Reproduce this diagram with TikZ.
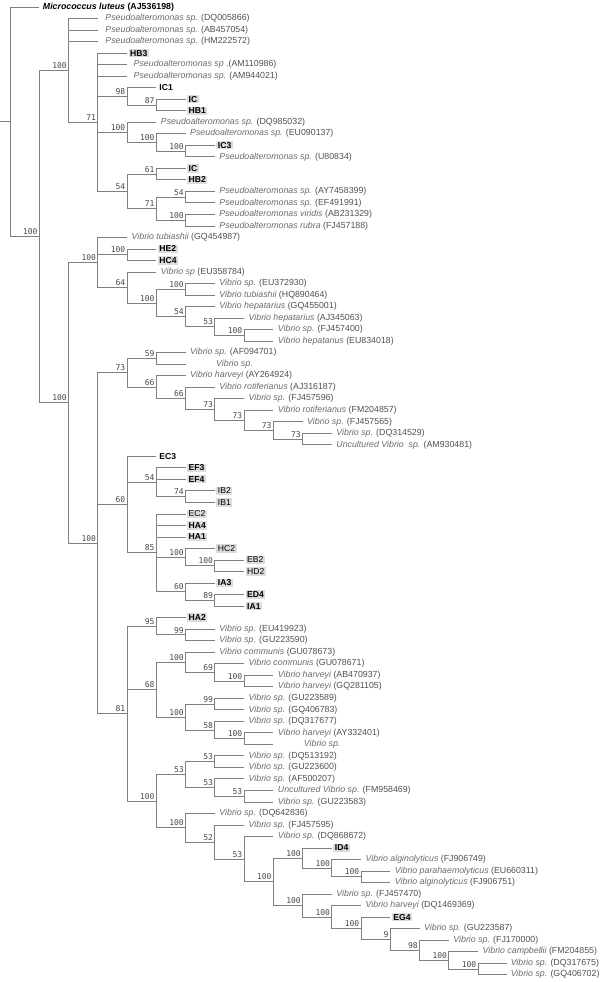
\documentclass[tikz,border=0pt]{standalone}
\usepackage{fontspec}
\setmainfont{Liberation Sans}
\newfontfamily\bsfont{DejaVu Sans Mono}
\definecolor{brc}{HTML}{808080}
\definecolor{bsc}{HTML}{484848}
\definecolor{spc}{HTML}{6A6A6A}
\definecolor{acc}{HTML}{505050}
\definecolor{isobg}{HTML}{DCDCDC}
\newcommand\spl[2]{{\color{spc}\itshape #1} {\color{acc}#2}}
\tikzset{
  br/.style={draw=brc,line width=0.75pt},
  bsl/.style={font=\bsfont\fontsize{8}{8}\selectfont,text=bsc,anchor=south east,inner sep=0pt,xshift=-1.5pt,yshift=1.5pt},
  spn/.style={anchor=west,inner sep=0pt,xshift=4.5pt,font=\fontsize{8.8}{10}\selectfont},
  ison/.style={anchor=west,inner xsep=1.5pt,inner ysep=1.2pt,xshift=1.5pt,font=\fontsize{8.6}{10}\selectfont\bfseries,fill=isobg,text=black},
  isor/.style={ison,font=\fontsize{8.6}{10}\selectfont},
  isob/.style={ison,fill=none},
}
\newcommand\mknode[4]{\coordinate (#1) at ({10+29.25*#2},#3); \node[bsl] (#1-l) at (#1) {#4};}
\newcommand\mkleaf[5]{\coordinate (#1) at ({10+29.25*(#2+1)},{7+11.52*#3}); \node[#4] (#1-t) at (#1) {#5};}
\newcommand\cn[2]{\foreach \ch in {#2}{\draw[br] (#1) |- (\ch);}}
\begin{document}
\begin{tikzpicture}[x=1pt,y=-1pt]
\useasboundingbox (0,0) rectangle (600,982);
% internal nodes
\coordinate (root) at (10,121.79);
\coordinate (stub) at (0,121.79);
\mknode{N1}{1}{236.58}{100}
\mknode{P}{2}{70.36}{100}
\mknode{Q}{3}{122.2}{71}
\mknode{R}{4}{96.28}{98}
\mknode{R2}{5}{104.92}{87}
\mknode{S}{4}{132.28}{100}
\mknode{S2}{5}{142.36}{100}
\mknode{S3}{6}{151}{100}
\mknode{T}{4}{191.32}{54}
\mknode{U}{5}{174.04}{61}
\mknode{W}{5}{208.6}{71}
\mknode{W1}{6}{197.08}{54}
\mknode{W2}{6}{220.12}{100}
\mknode{V}{2}{402.79}{100}
\mknode{V1}{3}{262.42}{100}
\mknode{V1a}{4}{254.68}{100}
\mknode{V1b}{4}{287.44}{64}
\mknode{V1c}{5}{302.92}{100}
\mknode{V1e}{6}{289.24}{100}
\mknode{V1d}{6}{316.6}{54}
\mknode{V1f}{7}{326.68}{53}
\mknode{V1g}{8}{335.32}{100}
\mknode{V2}{3}{543.16}{100}
\mknode{A}{4}{372.67}{73}
\mknode{A1}{5}{358.36}{59}
\mknode{A2}{5}{386.98}{66}
\mknode{A2b}{6}{398.32}{66}
\mknode{A3}{7}{409.48}{73}
\mknode{A4}{8}{420.28}{73}
\mknode{A5}{9}{430.36}{73}
\mknode{A6}{10}{439}{73}
\mknode{B}{4}{504.52}{60}
\mknode{B1}{5}{482.2}{54}
\mknode{B2}{6}{496.6}{74}
\mknode{C}{5}{552.76}{85}
\mknode{C2}{6}{557.08}{100}
\mknode{C2b}{7}{565.72}{100}
\mknode{C3}{6}{591.64}{60}
\mknode{C3b}{7}{600.28}{89}
\mknode{Vc}{4}{713.66}{81}
\mknode{D}{5}{626.2}{95}
\mknode{D1}{6}{634.84}{99}
\mknode{E}{5}{689.56}{68}
\mknode{E1}{6}{662.2}{100}
\mknode{E1b}{7}{672.28}{69}
\mknode{E1bb}{8}{680.92}{100}
\mknode{E2}{6}{716.92}{100}
\mknode{E2a}{7}{703.96}{99}
\mknode{E2b}{7}{729.88}{58}
\mknode{E2bb}{8}{738.52}{100}
\mknode{F}{5}{801.11}{100}
\mknode{F1}{6}{774.52}{53}
\mknode{F1a}{7}{761.56}{53}
\mknode{F1b}{7}{787.48}{53}
\mknode{F1bb}{8}{796.12}{53}
\mknode{G}{6}{827.7}{100}
\mknode{G1}{7}{842.01}{52}
\mknode{G2}{8}{859.1}{53}
\mknode{H}{9}{881.76}{100}
\mknode{Ha}{10}{858.04}{100}
\mknode{Ha2}{11}{868.12}{100}
\mknode{Ha3}{12}{876.76}{100}
\mknode{Hb}{10}{905.47}{100}
\mknode{Hb1}{11}{916.9}{100}
\mknode{Hb2}{12}{928.24}{100}
\mknode{Hb3}{13}{939.4}{9}
\mknode{Hb4}{14}{950.2}{98}
\mknode{Hb5}{15}{960.28}{100}
\mknode{Hb6}{16}{968.92}{100}
% leaves
\mkleaf{L0}{0}{0}{spn,xshift=-1pt,font=\fontsize{8.8}{10}\selectfont}{{\bfseries\itshape Micrococcus luteus} {\bfseries (AJ536198)}}
\mkleaf{L1}{2}{1}{spn,xshift=3pt}{\spl{Pseudoalteromonas sp.}{(DQ005866)}}
\mkleaf{L2}{2}{2}{spn,xshift=3pt}{\spl{Pseudoalteromonas sp.}{(AB457054)}}
\mkleaf{L3}{2}{3}{spn,xshift=3pt}{\spl{Pseudoalteromonas sp.}{(HM222572)}}
\mkleaf{L4}{3}{4}{ison}{HB3}
\mkleaf{L5}{3}{5}{spn,xshift=2pt}{\spl{Pseudoalteromonas sp}{.(AM110986)}}
\mkleaf{L6}{3}{6}{spn,xshift=2pt}{\spl{Pseudoalteromonas sp.}{(AM944021)}}
\mkleaf{L7}{4}{7}{isob}{IC1}
\mkleaf{L8}{5}{8}{ison}{IC}
\mkleaf{L9}{5}{9}{ison}{HB1}
\mkleaf{L10}{4}{10}{spn}{\spl{Pseudoalteromonas sp.}{(DQ985032)}}
\mkleaf{L11}{5}{11}{spn}{\spl{Pseudoalteromonas sp.}{(EU090137)}}
\mkleaf{L12}{6}{12}{ison}{IC3}
\mkleaf{L13}{6}{13}{spn}{\spl{Pseudoalteromonas sp.}{(U80834)}}
\mkleaf{L14}{5}{14}{ison}{IC}
\mkleaf{L15}{5}{15}{ison}{HB2}
\mkleaf{L16}{6}{16}{spn}{\spl{Pseudoalteromonas sp.}{(AY7458399)}}
\mkleaf{L17}{6}{17}{spn}{\spl{Pseudoalteromonas sp.}{(EF491991)}}
\mkleaf{L18}{6}{18}{spn}{\spl{Pseudoalteromonas viridis}{(AB231329)}}
\mkleaf{L19}{6}{19}{spn}{\spl{Pseudoalteromonas rubra}{(FJ457188)}}
\mkleaf{L20}{3}{20}{spn}{\spl{Vibrio tubiashii}{(GQ454987)}}
\mkleaf{L21}{4}{21}{ison}{HE2}
\mkleaf{L22}{4}{22}{ison}{HC4}
\mkleaf{L23}{4}{23}{spn}{\spl{Vibrio sp}{(EU358784)}}
\mkleaf{L24}{6}{24}{spn}{\spl{Vibrio sp.}{(EU372930)}}
\mkleaf{L25}{6}{25}{spn}{\spl{Vibrio tubiashii}{(HQ890464)}}
\mkleaf{L26}{6}{26}{spn}{\spl{Vibrio hepatarius}{(GQ455001)}}
\mkleaf{L27}{7}{27}{spn}{\spl{Vibrio hepatarius}{(AJ345063)}}
\mkleaf{L28}{8}{28}{spn}{\spl{Vibrio sp.}{(FJ457400)}}
\mkleaf{L29}{8}{29}{spn}{\spl{Vibrio hepatarius}{(EU834018)}}
\mkleaf{L30}{5}{30}{spn}{\spl{Vibrio sp.}{(AF094701)}}
\mkleaf{L31}{5}{31}{spn,xshift=26pt}{{\color{spc}\itshape Vibrio sp.}}
\mkleaf{L32}{5}{32}{spn}{\spl{Vibrio harveyi}{(AY264924)}}
\mkleaf{L33}{6}{33}{spn}{\spl{Vibrio rotiferianus}{(AJ316187)}}
\mkleaf{L34}{7}{34}{spn}{\spl{Vibrio sp.}{(FJ457596)}}
\mkleaf{L35}{8}{35}{spn}{\spl{Vibrio rotiferianus}{(FM204857)}}
\mkleaf{L36}{9}{36}{spn}{\spl{Vibrio sp.}{(FJ457565)}}
\mkleaf{L37}{10}{37}{spn}{\spl{Vibrio sp.}{(DQ314529)}}
\mkleaf{L38}{10}{38}{spn}{\spl{Uncultured Vibrio\ \ sp.}{(AM930481)}}
\mkleaf{L39}{4}{39}{isob}{EC3}
\mkleaf{L40}{5}{40}{ison}{EF3}
\mkleaf{L41}{5}{41}{ison}{EF4}
\mkleaf{L42}{6}{42}{isor}{IB2}
\mkleaf{L43}{6}{43}{isor}{IB1}
\mkleaf{L44}{5}{44}{isor}{EC2}
\mkleaf{L45}{5}{45}{ison}{HA4}
\mkleaf{L46}{5}{46}{ison}{HA1}
\mkleaf{L47}{6}{47}{isor}{HC2}
\mkleaf{L48}{7}{48}{isor}{EB2}
\mkleaf{L49}{7}{49}{isor}{HD2}
\mkleaf{L50}{6}{50}{ison}{IA3}
\mkleaf{L51}{7}{51}{ison}{ED4}
\mkleaf{L52}{7}{52}{ison}{IA1}
\mkleaf{L53}{5}{53}{ison}{HA2}
\mkleaf{L54}{6}{54}{spn}{\spl{Vibrio sp.}{(EU419923)}}
\mkleaf{L55}{6}{55}{spn}{\spl{Vibrio sp.}{(GU223590)}}
\mkleaf{L56}{6}{56}{spn}{\spl{Vibrio communis}{(GU078673)}}
\mkleaf{L57}{7}{57}{spn}{\spl{Vibrio communis}{(GU078671)}}
\mkleaf{L58}{8}{58}{spn}{\spl{Vibrio harveyi}{(AB470937)}}
\mkleaf{L59}{8}{59}{spn}{\spl{Vibrio harveyi}{(GQ281105)}}
\mkleaf{L60}{7}{60}{spn}{\spl{Vibrio sp.}{(GU223589)}}
\mkleaf{L61}{7}{61}{spn}{\spl{Vibrio sp.}{(GQ406783)}}
\mkleaf{L62}{7}{62}{spn}{\spl{Vibrio sp.}{(DQ317677)}}
\mkleaf{L63}{8}{63}{spn}{\spl{Vibrio harveyi}{(AY332401)}}
\mkleaf{L64}{8}{64}{spn,xshift=26pt}{{\color{spc}\itshape Vibrio sp.}}
\mkleaf{L65}{7}{65}{spn}{\spl{Vibrio sp.}{(DQ513192)}}
\mkleaf{L66}{7}{66}{spn}{\spl{Vibrio sp.}{(GU223600)}}
\mkleaf{L67}{7}{67}{spn}{\spl{Vibrio sp.}{(AF500207)}}
\mkleaf{L68}{8}{68}{spn}{\spl{Uncultured Vibrio sp.}{(FM958469)}}
\mkleaf{L69}{8}{69}{spn}{\spl{Vibrio sp.}{(GU223583)}}
\mkleaf{L70}{6}{70}{spn}{\spl{Vibrio sp.}{(DQ642836)}}
\mkleaf{L71}{7}{71}{spn}{\spl{Vibrio sp.}{(FJ457595)}}
\mkleaf{L72}{8}{72}{spn}{\spl{Vibrio sp.}{(DQ868672)}}
\mkleaf{L73}{10}{73}{ison}{ID4}
\mkleaf{L74}{11}{74}{spn}{\spl{Vibrio alginolyticus}{(FJ906749)}}
\mkleaf{L75}{12}{75}{spn}{\spl{Vibrio parahaemolyticus}{(EU660311)}}
\mkleaf{L76}{12}{76}{spn}{\spl{Vibrio alginolyticus}{(FJ906751)}}
\mkleaf{L77}{10}{77}{spn}{\spl{Vibrio sp.}{(FJ457470)}}
\mkleaf{L78}{11}{78}{spn}{\spl{Vibrio harveyi}{(DQ1469369)}}
\mkleaf{L79}{12}{79}{ison}{EG4}
\mkleaf{L80}{13}{80}{spn}{\spl{Vibrio sp.}{(GU223587)}}
\mkleaf{L81}{14}{81}{spn}{\spl{Vibrio sp.}{(FJ170000)}}
\mkleaf{L82}{15}{82}{spn}{\spl{Vibrio campbellii}{(FM204855)}}
\mkleaf{L83}{16}{83}{spn,xshift=-1.2pt}{\spl{Vibrio sp.}{(DQ317675)}}
\mkleaf{L84}{16}{84}{spn,xshift=-1.2pt}{\spl{Vibrio sp.}{(GQ406702)}}
% branches
\draw[br] (stub) -- (root);
\cn{root}{L0,N1}
\cn{N1}{P,V}
\cn{P}{L1,L2,L3,Q}
\cn{Q}{L4,L5,L6,R,S,T}
\cn{R}{L7,R2}
\cn{R2}{L8,L9}
\cn{S}{L10,S2}
\cn{S2}{L11,S3}
\cn{S3}{L12,L13}
\cn{T}{U,W}
\cn{U}{L14,L15}
\cn{W}{W1,W2}
\cn{W1}{L16,L17}
\cn{W2}{L18,L19}
\cn{V}{V1,V2}
\cn{V1}{L20,V1a,V1b}
\cn{V1a}{L21,L22}
\cn{V1b}{L23,V1c}
\cn{V1c}{V1e,V1d}
\cn{V1e}{L24,L25}
\cn{V1d}{L26,V1f}
\cn{V1f}{L27,V1g}
\cn{V1g}{L28,L29}
\cn{V2}{A,B,Vc}
\cn{A}{A1,A2}
\cn{A1}{L30,L31}
\cn{A2}{L32,A2b}
\cn{A2b}{L33,A3}
\cn{A3}{L34,A4}
\cn{A4}{L35,A5}
\cn{A5}{L36,A6}
\cn{A6}{L37,L38}
\cn{B}{L39,B1,C}
\cn{B1}{L40,L41,B2}
\cn{B2}{L42,L43}
\cn{C}{L44,L45,L46,C2,C3}
\cn{C2}{L47,C2b}
\cn{C2b}{L48,L49}
\cn{C3}{L50,C3b}
\cn{C3b}{L51,L52}
\cn{Vc}{D,E,F}
\cn{D}{L53,D1}
\cn{D1}{L54,L55}
\cn{E}{E1,E2}
\cn{E1}{L56,E1b}
\cn{E1b}{L57,E1bb}
\cn{E1bb}{L58,L59}
\cn{E2}{E2a,E2b}
\cn{E2a}{L60,L61}
\cn{E2b}{L62,E2bb}
\cn{E2bb}{L63,L64}
\cn{F}{F1,G}
\cn{F1}{F1a,F1b}
\cn{F1a}{L65,L66}
\cn{F1b}{L67,F1bb}
\cn{F1bb}{L68,L69}
\cn{G}{L70,G1}
\cn{G1}{L71,G2}
\cn{G2}{L72,H}
\cn{H}{Ha,Hb}
\cn{Ha}{L73,Ha2}
\cn{Ha2}{L74,Ha3}
\cn{Ha3}{L75,L76}
\cn{Hb}{L77,Hb1}
\cn{Hb1}{L78,Hb2}
\cn{Hb2}{L79,Hb3}
\cn{Hb3}{L80,Hb4}
\cn{Hb4}{L81,Hb5}
\cn{Hb5}{L82,Hb6}
\cn{Hb6}{L83,L84}
\end{tikzpicture}
\end{document}
